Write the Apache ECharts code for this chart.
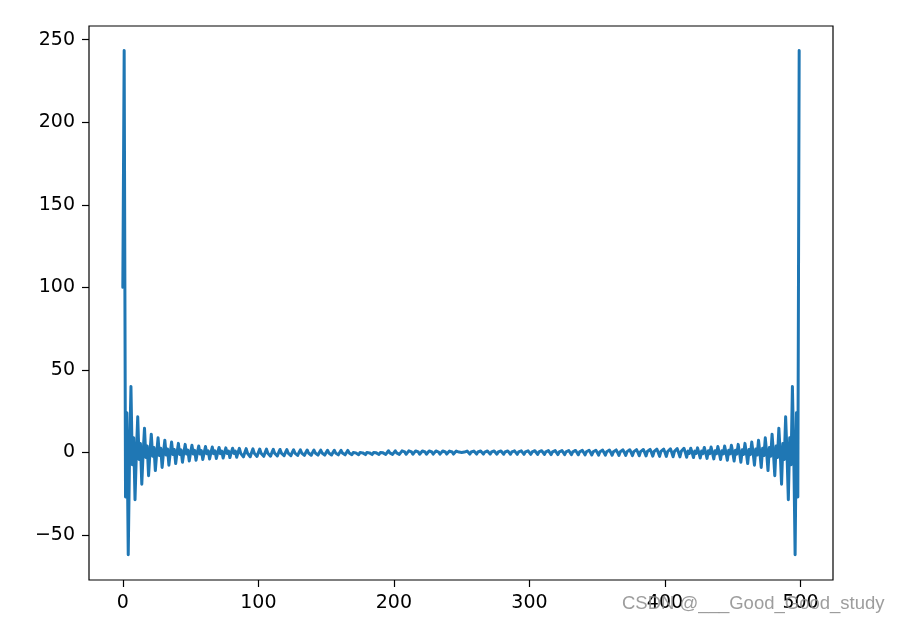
<!DOCTYPE html>
<html>
<head>
<meta charset="utf-8">
<script src="https://cdn.jsdelivr.net/npm/echarts@6/dist/echarts.min.js"></script>
<style>
html,body{margin:0;padding:0;background:#fff;}
#chart{width:898px;height:624px;}
</style>
</head>
<body>
<div id="chart"></div>
<script>
const values = [
100, 243.5, -27, 24, -62, -0.5,
40, -7.4, 8.9, -28.6, -0.3,
21.6, -4.3, 5.4, -19.2, -0.2,
14.7, -3.0, 3.9, -14.1, -0.2,
11.1, -2.3, 3.0, -11.0, -0.2,
8.9, -1.9, 2.5, -9.1, -0.15,
7.4, -1.6, 2.1, -7.7, -0.1,
6.3, -1.3, 1.8, -6.7, -0.1,
5.5, -1.2, 1.6, -5.9, -0.1,
4.9, -1.0, 1.4, -5.2, -0.1,
4.4, -0.9, 1.3, -4.7, -0.1,
3.9, -0.9, 1.1, -4.3, -0.1,
3.6, -0.8, 1.0, -3.9, -0.1,
3.3, -0.7, 1.0, -3.6, -0.1,
3.05, -0.7, 0.9, -3.4, -0.1,
2.8, -0.6, 0.8, -3.1, 0,
2.6, -0.6, 0.8, -2.9, 0,
2.5, -0.5, 0.7, -2.7, 0,
2.3, -0.5, 0.7, -2.6, 0,
2.2, -0.5, 0.6, -2.4, 0,
2.08, -0.46, 0.62, -2.35, 0,
2.02, -0.44, 0.6, -2.25, 0,
1.88, -0.41, 0.56, -2.12, 0,
1.8, -0.39, 0.53, -2.0, 0,
1.71, -0.37, 0.51, -1.93, 0,
1.65, -0.36, 0.49, -1.84, 0,
1.57, -0.34, 0.47, -1.77, 0,
1.52, -0.33, 0.45, -1.7, 0,
1.45, -0.32, 0.43, -1.64, 0,
1.41, -0.31, 0.42, -1.58, 0,
1.35, -0.3, 0.4, -1.53, 0,
1.31, -0.29, 0.39, -1.47, 0,
1.26, -0.28, 0.38, -1.43, 0,
1.23, -0.27, 0.37, -1.38, 0,
1.19, -0.26, 0.35, -1.35, 0,
1.16, -0.25, 0.34, -1.3, 0,
1.12, -0.25, 0.33, -1.27, 0,
1.09, -0.24, 0.32, -1.23, 0,
1.06, -0.23, 0.32, -1.21, 0,
1.04, -0.23, 0.31, -1.17, 0,
1.01, -0.22, 0.3, -1.15, 0,
0.99, -0.22, 0.29, -1.12, 0,
0.96, -0.21, 0.29, -1.09, 0,
0.94, -0.21, 0.28, -1.07, 0,
0.92, -0.2, 0.27, -1.05, 0,
0.9, -0.2, 0.27, -1.02, 0,
0.89, -0.19, 0.26, -1.01, 0,
0.87, -0.19, 0.26, -0.99, 0,
0.86, -0.19, 0.26, -0.98, 0,
0.84, -0.18, 0.25, -0.95, 0,
-0.95, 0.25, -0.18, 0.84,
0, -0.98, 0.26, -0.19, 0.86,
0, -0.99, 0.26, -0.19, 0.87,
0, -1.01, 0.26, -0.19, 0.89,
0, -1.02, 0.27, -0.2, 0.9,
0, -1.05, 0.27, -0.2, 0.92,
0, -1.07, 0.28, -0.21, 0.94,
0, -1.09, 0.29, -0.21, 0.96,
0, -1.12, 0.29, -0.22, 0.99,
0, -1.15, 0.3, -0.22, 1.01,
0, -1.17, 0.31, -0.23, 1.04,
0, -1.21, 0.32, -0.23, 1.06,
0, -1.23, 0.32, -0.24, 1.09,
0, -1.27, 0.33, -0.25, 1.12,
0, -1.3, 0.34, -0.25, 1.16,
0, -1.35, 0.35, -0.26, 1.19,
0, -1.38, 0.37, -0.27, 1.23,
0, -1.43, 0.38, -0.28, 1.26,
0, -1.47, 0.39, -0.29, 1.31,
0, -1.53, 0.4, -0.3, 1.35,
0, -1.58, 0.42, -0.31, 1.41,
0, -1.64, 0.43, -0.32, 1.45,
0, -1.7, 0.45, -0.33, 1.52,
0, -1.77, 0.47, -0.34, 1.57,
0, -1.84, 0.49, -0.36, 1.65,
0, -1.93, 0.51, -0.37, 1.71,
0, -2.0, 0.53, -0.39, 1.8,
0, -2.12, 0.56, -0.41, 1.88,
0, -2.25, 0.6, -0.44, 2.02,
0, -2.35, 0.62, -0.46, 2.08,
0, -2.4, 0.6, -0.5, 2.2,
0, -2.6, 0.7, -0.5, 2.3,
0, -2.7, 0.7, -0.5, 2.5,
0, -2.9, 0.8, -0.6, 2.6,
0, -3.1, 0.8, -0.6, 2.8,
-0.1, -3.4, 0.9, -0.7, 3.05,
-0.1, -3.6, 1.0, -0.7, 3.3,
-0.1, -3.9, 1.0, -0.8, 3.6,
-0.1, -4.3, 1.1, -0.9, 3.9,
-0.1, -4.7, 1.3, -0.9, 4.4,
-0.1, -5.2, 1.4, -1.0, 4.9,
-0.1, -5.9, 1.6, -1.2, 5.5,
-0.1, -6.7, 1.8, -1.3, 6.3,
-0.1, -7.7, 2.1, -1.6, 7.4,
-0.15, -9.1, 2.5, -1.9, 8.9,
-0.2, -11.0, 3.0, -2.3, 11.1,
-0.2, -14.1, 3.9, -3.0, 14.7,
-0.2, -19.2, 5.4, -4.3, 21.6,
-0.3, -28.6, 8.9, -7.4, 40,
-0.5, -62, 24, -27, 243.5
];
const xTicks = [0, 100, 200, 300, 400, 500];
const yTicks = [-50, 0, 50, 100, 150, 200, 250];
const watermark = 'CSDN @___Good_Good_study';

const seriesData = values.map((v, i) => [i, v]);
const fmt = v => (v < 0 ? '\u2212' + Math.abs(v) : String(v));

const chart = echarts.init(document.getElementById('chart'), null, {renderer: 'canvas'});
chart.setOption({
  animation: false,
  backgroundColor: '#ffffff',
  grid: {left: 89, right: 65, top: 26, bottom: 44, show: true, borderColor: '#000', borderWidth: 1.2, backgroundColor: 'transparent'},
  xAxis: {
    type: 'value', min: -24.95, max: 523.95,
    splitLine: {show: false},
    axisLine: {show: false, onZero: false},
    axisTick: {show: true, inside: false, customValues: xTicks, length: 7, lineStyle: {color: '#000', width: 1.2}},
    axisLabel: {customValues: xTicks, formatter: fmt, color: '#000', fontFamily: 'DejaVu Sans', fontSize: 19, margin: 14}
  },
  yAxis: {
    type: 'value', min: -77.25, max: 258.3,
    splitLine: {show: false},
    axisLine: {show: false, onZero: false},
    axisTick: {show: true, inside: false, customValues: yTicks, length: 7, lineStyle: {color: '#000', width: 1.2}},
    axisLabel: {customValues: yTicks, formatter: fmt, color: '#000', fontFamily: 'DejaVu Sans', fontSize: 19, margin: 14}
  },
  series: [{
    type: 'line', data: seriesData, showSymbol: false, sampling: 'none',
    lineStyle: {color: '#1f77b4', width: 3, join: 'round', cap: 'round'},
    z: 2
  }],
  graphic: [{
    type: 'text', left: 622, top: 594, z: 100,
    style: {text: watermark, fill: 'rgba(140,140,140,0.85)', font: '18.5px "Liberation Sans", Arial, sans-serif'}
  }]
});
</script>
</body>
</html>
